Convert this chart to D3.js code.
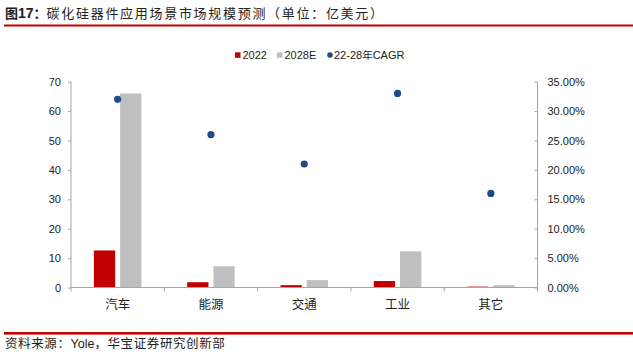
<!DOCTYPE html>
<html><head><meta charset="utf-8">
<script src="https://cdn.jsdelivr.net/npm/d3@7"></script>
<style>
body{margin:0;background:#fff;}
svg{display:block;}
</style></head>
<body>
<svg id="c" width="633" height="356"></svg>
<script>
const categories = ["汽车","能源","交通","工业","其它"];
const seriesNames = ["2022","2028E"];
const values2022 = [12.6, 1.8, 0.8, 2.2, 0.3];
const values2028 = [66, 7.2, 2.5, 12.3, 0.8];
const cagr = [0.32, 0.26, 0.21, 0.33, 0.16];
const leftTicks = [0,10,20,30,40,50,60,70];
const rightTicks = [0,0.05,0.10,0.15,0.20,0.25,0.30,0.35];
const titleText = "图17：碳化硅器件应用场景市场规模预测（单位：亿美元）";
const sourceText = "资料来源：Yole，华宝证券研究创新部";
const cagrLabel = "22-28年CAGR";

const svg = d3.select("#c");
const cjk = "'Noto Sans CJK SC', sans-serif";
const latin = "'Liberation Sans', Arial, sans-serif";
const axisColor = "#a6a6a6";
const red = "#c00000", gray = "#bfbfbf", blue = "#1f4a86";

// Title
const t = svg.append("text").attr("x",5).attr("y",18).attr("font-size",13).attr("fill","#222").attr("font-family",cjk);
t.append("tspan").attr("font-weight","bold").text("图");
t.append("tspan").attr("font-weight","bold").attr("font-family",latin).attr("font-size",14).text("17");
t.append("tspan").attr("font-weight","bold").text("：");
t.append("tspan").attr("letter-spacing",1.7).text(titleText.slice(4));
svg.append("rect").attr("x",4).attr("y",24.5).attr("width",629).attr("height",2).attr("fill",red);
svg.append("rect").attr("x",4).attr("y",332).attr("width",629).attr("height",2.6).attr("fill",red);
const s = svg.append("text").attr("x",5).attr("y",348).attr("font-size",12.5).attr("fill","#222").attr("font-family",cjk);
s.append("tspan").attr("letter-spacing",0.6).text("资料来源：");
s.append("tspan").attr("font-family",latin).text("Yole");
s.append("tspan").attr("letter-spacing",0.6).text("，华宝证券研究创新部");

// Scales
const x0 = d3.scaleBand().domain(categories).range([71,537.5]).padding(0);
const x1 = d3.scaleBand().domain(seriesNames).range([0,47.5]).paddingInner(0.19).paddingOuter(0);
const y = d3.scaleLinear().domain([0,70]).range([287.5,81.7]);
const y2 = d3.scaleLinear().domain([0,0.35]).range([287.5,81.7]);

// Bars
const data = categories.map((c,i)=>({c, vals:[{k:"2022",v:values2022[i]},{k:"2028E",v:values2028[i]}]}));
const groupOffset = (x0.bandwidth()-47.5)/2;
const g = svg.append("g").selectAll("g").data(data).join("g")
  .attr("transform",d=>`translate(${x0(d.c)+groupOffset},0)`);
g.selectAll("rect").data(d=>d.vals).join("rect")
  .attr("x",d=>x1(d.k)).attr("width",x1.bandwidth())
  .attr("y",d=>y(d.v)).attr("height",d=>y(0)-y(d.v))
  .attr("fill",d=>d.k==="2022"?red:gray);

// Left axis
const la = svg.append("g").attr("transform","translate(71,0)")
  .call(d3.axisLeft(y).tickValues(leftTicks).tickSize(3).tickPadding(7).tickFormat(d3.format("d")));
// Right axis
const ra = svg.append("g").attr("transform","translate(537.5,0)")
  .call(d3.axisRight(y2).tickValues(rightTicks).tickSize(-3).tickPadding(10).tickFormat(d3.format(".2%")));
// Bottom axis
const ba = svg.append("g").attr("transform","translate(0,287.5)")
  .call(d3.axisBottom(x0).tickSize(0).tickPadding(13));
ba.selectAll(".tick line").remove();
const tickXs = categories.map(c=>x0(c)).concat([x0.range()[1]]);
ba.selectAll(".cattick").data(tickXs).join("line").attr("class","cattick")
  .attr("x1",d=>d).attr("x2",d=>d).attr("y1",0).attr("y2",4).attr("stroke",axisColor);
ba.selectAll(".tick text").attr("font-family",cjk).attr("font-size",12.5).attr("fill","#222");

la.select(".domain").remove(); ra.select(".domain").remove(); ba.select(".domain").remove();
[la,ra].forEach(a=>a.selectAll(".tick line").attr("stroke",axisColor));
svg.append("line").attr("x1",71).attr("x2",71).attr("y1",y(70)).attr("y2",y(0)).attr("stroke",axisColor);
svg.append("line").attr("x1",537.5).attr("x2",537.5).attr("y1",y(70)).attr("y2",y(0)).attr("stroke",axisColor);
svg.append("line").attr("x1",71).attr("x2",537.5).attr("y1",y(0)).attr("y2",y(0)).attr("stroke",axisColor);
[la,ra].forEach(a=>a.selectAll(".tick text").attr("font-family",latin).attr("font-size",11).attr("fill","#222"));

// CAGR dots
svg.append("g").selectAll("circle").data(categories).join("circle")
  .attr("cx",(c)=>x0(c)+x0.bandwidth()/2).attr("cy",(c,i)=>y2(cagr[i]))
  .attr("r",3.6).attr("fill",blue);

// Legend
const lg = svg.append("g").attr("font-family",latin).attr("font-size",11).attr("fill","#222");
lg.append("rect").attr("x",235).attr("y",52.3).attr("width",5.5).attr("height",5.5).attr("fill",red);
lg.append("text").attr("x",242.5).attr("y",59).text(seriesNames[0]);
lg.append("rect").attr("x",277).attr("y",52.3).attr("width",5.5).attr("height",5.5).attr("fill",gray);
lg.append("text").attr("x",284.5).attr("y",59).text(seriesNames[1]);
lg.append("circle").attr("cx",330).attr("cy",55).attr("r",2.8).attr("fill",blue);
const lt = lg.append("text").attr("x",334).attr("y",59);
lt.append("tspan").text("22-28");
lt.append("tspan").attr("font-family",cjk).attr("font-size",10.5).text("年");
lt.append("tspan").text("CAGR");
</script>
</body></html>
